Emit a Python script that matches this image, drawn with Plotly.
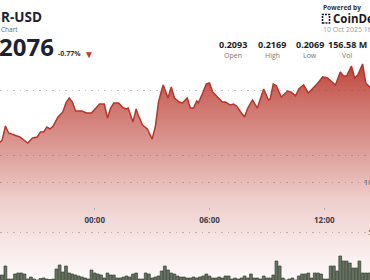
import plotly.graph_objects as go
import pandas as pd

# ---------------- data ----------------
price_times = (
    ["2025-10-09 " + t for t in [
        "19:00", "19:05", "19:10", "19:20", "19:30", "19:50", "20:05", "20:30", "20:45",
        "21:00", "21:10", "21:20", "21:30", "21:40", "21:50", "22:05", "22:20", "22:30",
        "22:40", "22:50", "23:00", "23:20", "23:35", "23:50"]]
    + ["2025-10-10 " + t for t in [
        "00:05", "00:15", "00:30", "00:40", "00:50", "01:00", "01:15", "01:30", "01:40",
        "01:45", "02:00", "02:10", "02:15", "02:30", "02:45", "03:00", "03:10", "03:20",
        "03:30", "03:35", "03:50", "04:00", "04:10", "04:25", "04:35", "04:50", "05:00",
        "05:10", "05:20", "05:25", "05:40", "05:50", "06:00", "06:10", "06:25", "06:40",
        "06:50", "07:05", "07:15", "07:25", "07:40", "07:50", "08:00", "08:15", "08:30",
        "08:50", "09:05", "09:10", "09:20", "09:30", "09:45", "10:05", "10:15", "10:30",
        "10:40", "10:55", "11:10", "11:25", "11:40", "11:55", "12:10", "12:35", "12:50",
        "13:00", "13:10", "13:25", "13:35", "13:45", "14:00", "14:10", "14:25"]]
)
price_values = [
    0.21110, 0.21108, 0.21123, 0.21231, 0.21177, 0.21162, 0.21146, 0.21100, 0.21138,
    0.21146, 0.21185, 0.21185, 0.21223, 0.21208, 0.21231, 0.21300, 0.21339, 0.21408,
    0.21446, 0.21415, 0.21346, 0.21346, 0.21331, 0.21331,
    0.21369, 0.21400, 0.21400, 0.21292, 0.21369, 0.21408, 0.21408, 0.21369, 0.21362,
    0.21369, 0.21262, 0.21362, 0.21323, 0.21238, 0.21208, 0.21131, 0.21223, 0.21415,
    0.21508, 0.21546, 0.21446, 0.21531, 0.21446, 0.21415, 0.21408, 0.21446, 0.21369,
    0.21369, 0.21423, 0.21408, 0.21492, 0.21554, 0.21562, 0.21492, 0.21454, 0.21415,
    0.21415, 0.21392, 0.21400, 0.21385, 0.21331, 0.21300, 0.21369, 0.21431, 0.21369,
    0.21515, 0.21431, 0.21438, 0.21554, 0.21538, 0.21454, 0.21500, 0.21492, 0.21462,
    0.21515, 0.21546, 0.21485, 0.21523, 0.21562, 0.21608, 0.21600, 0.21546, 0.21646,
    0.21615, 0.21615, 0.21692, 0.21600, 0.21623, 0.21708, 0.21562, 0.21523,
]

vol_start = "2025-10-09 19:00"
vol_freq = "10min"
volume_m = [
    0.7, 0.7, 1.6, 0.3, 0.3, 0.8, 0.9, 0.9, 0.8, 0.3,
    0.5, 0.3, 0.2, 0.35, 0.4, 0.3, 0.25, 0.3, 1.3, 1.7,
    1.0, 1.6, 0.9, 0.8, 0.7, 0.6, 0.5, 0.4, 0.3, 1.2,
    0.9, 0.8, 0.7, 0.4, 0.9, 0.7, 0.7, 0.4, 0.4, 0.5,
    0.6, 0.5, 0.8, 0.9, 0.3, 0.3, 0.9, 0.8, 0.4, 0.5,
    0.6, 1.1, 1.6, 1.2, 0.9, 0.8, 0.6, 0.5, 0.5, 0.4,
    0.4, 0.5, 0.4, 0.5, 0.6, 0.8, 0.6, 0.4, 0.4, 0.5,
    0.4, 0.6, 0.6, 0.3, 0.4, 0.3, 0.4, 0.6, 0.4, 0.8,
    0.4, 0.4, 0.3, 0.6, 0.4, 0.4, 0.7, 2.1, 1.6, 0.4,
    0.2, 0.3, 0.4, 0.2, 0.6, 0.8, 0.8, 0.9, 0.4, 0.9,
    0.9, 0.8, 0.3, 0.3, 1.6, 1.6, 1.1, 2.6, 2.1, 2.1,
    1.9, 1.4, 1.4, 2.1, 0.9, 0.9, 0.9,
]
vol_times = pd.date_range(vol_start, periods=len(volume_m), freq=vol_freq)

x_ticks = ["2025-10-10 00:00", "2025-10-10 06:00", "2025-10-10 12:00"]
x_tick_labels = ["00:00", "06:00", "12:00"]
x_range = ["2025-10-09 19:03:03", "2025-10-10 14:23:18"]

price_grid = [0.210, 0.215]
price_range = [0.20046, 0.22200]
vol_grid = [5, 10]
vol_grid_labels = ["5M", "10M"]
vol_range = [0.2, 28.2]

symbol = "R-USD"
subtitle = "Chart"
last_price = "2076"
change_pct = "-0.77%"
stat_values = ["0.2093", "0.2169", "0.2069", "156.58 M"]
stat_labels = ["Open", "High", "Low", "Vol"]
stamp = "10 Oct 2025 16:15 UTC"

# ---------------- figure ----------------
W, H = 370, 280
FONT = "Open Sans"
RED = "185,55,45"

fig = go.Figure()

fig.add_trace(go.Scatter(
    x=price_times, y=price_values, mode="lines",
    line=dict(color="#b5362b", width=1.5),
    fill="tozeroy",
    fillgradient=dict(
        type="vertical", start=0.20046, stop=0.21708,
        colorscale=[
            [0.0, f"rgba({RED},0.03)"],
            [0.139, f"rgba({RED},0.10)"],
            [0.370, f"rgba({RED},0.245)"],
            [0.601, f"rgba({RED},0.49)"],
            [0.833, f"rgba({RED},0.72)"],
            [1.0, f"rgba({RED},0.93)"],
        ],
    ),
    hoverinfo="skip", showlegend=False,
))

fig.add_trace(go.Bar(
    x=vol_times, y=volume_m, yaxis="y2",
    marker=dict(color="#66735f", line=dict(color="#38423a", width=0.7)),
    hoverinfo="skip", showlegend=False,
))

grid = dict(showgrid=True, gridcolor="#c4c4c4", griddash="1.5px,5px", gridwidth=1)

fig.update_layout(
    template="none",
    width=W, height=H, margin=dict(l=0, r=0, t=0, b=0, pad=0),
    paper_bgcolor="white", plot_bgcolor="white",
    bargap=0.12,
    xaxis=dict(
        type="date", range=x_range, tickvals=x_ticks, ticktext=x_tick_labels,
        showgrid=False, zeroline=False, showline=False, automargin=False,
        anchor="free", position=1 - 207 / H,
        ticks="outside", ticklen=2, tickwidth=1, tickcolor="#b0b0b0",
        ticklabelstandoff=3,
        tickfont=dict(family=FONT, size=8, color="#3a3f4a", weight="bold"),
    ),
    yaxis=dict(
        range=price_range, tickvals=price_grid, showticklabels=False,
        zeroline=False, showline=False, ticks="", automargin=False, **grid,
    ),
    yaxis2=dict(
        range=vol_range, overlaying="y", side="right",
        tickvals=vol_grid, ticktext=vol_grid_labels,
        ticklabelposition="inside", ticklabelstandoff=-13,
        tickfont=dict(family=FONT, size=8, color="#555"),
        zeroline=False, showline=False, ticks="", automargin=False, **grid,
    ),
    font=dict(family=FONT),
)


def px(x):
    return x / W


def py(y):
    return 1 - y / H


ann = []


def text(x, y, s, size, color, xanchor="left", weight="normal"):
    ann.append(dict(
        x=px(x), y=py(y), xref="paper", yref="paper", text=s, showarrow=False,
        xanchor=xanchor, yanchor="middle",
        font=dict(family=FONT, size=size, color=color, weight=weight),
    ))


text(-1, 17, symbol, 13.5, "#1d2230", weight="bold")
text(-1, 30, subtitle, 6.5, "#666")
text(-3, 47, last_price, 24, "#1d2230", weight="bold")
text(56, 54, change_pct, 7, "#333", weight="bold")
text(82, 54, "▼", 10, "#c0392b")

text(321, 7, "Powered by", 6.5, "#333", weight="bold")
text(331, 19, "CoinDesk", 11.5, "#1a1a1a", weight="bold")
text(321, 30, stamp, 7, "#9a9a9a")

stat_x = [233, 272, 310, 347]
for xs, v, lab in zip(stat_x, stat_values, stat_labels):
    text(xs, 44, v, 9, "#222", xanchor="center", weight="bold")
    text(xs, 56, lab, 7, "#777", xanchor="center")

fig.update_layout(annotations=ann)

# CoinDesk logo mark
fig.add_shape(type="rect", xref="paper", yref="paper",
              x0=px(322.5), x1=px(329.5), y0=py(23), y1=py(14.5),
              line=dict(color="#1a1a1a", width=1.6, dash="2px,1px"))

fig.write_html("out.html")
